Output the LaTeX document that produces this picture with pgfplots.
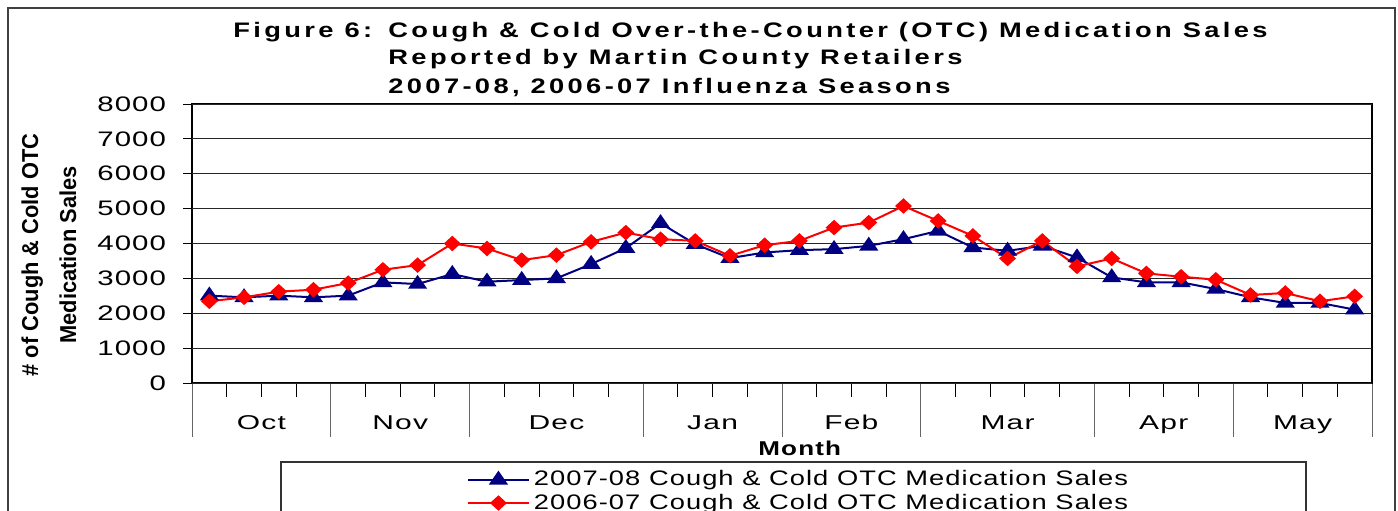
\documentclass[border=0pt]{standalone}
\usepackage{fontspec}
\usepackage{pgfplots}
\pgfplotsset{compat=1.18}
\setmainfont{Liberation Sans}
\newfontfamily\tickfont{Liberation Sans}[FakeStretch=1.4,LetterSpace=5]
\newfontfamily\monthfont{Liberation Sans}[FakeStretch=1.5,LetterSpace=6]
\newfontfamily\legfont{Liberation Sans}[FakeStretch=1.3,LetterSpace=5]
\newfontfamily\titlefont{Liberation Sans}[FakeStretch=1.3,LetterSpace=16]
\newfontfamily\xlabfont{Liberation Sans}[FakeStretch=1.3,LetterSpace=6]
\newfontfamily\ylabfont{Liberation Sans}[FakeStretch=0.95]
\definecolor{navyb}{RGB}{0,0,128}
\definecolor{redr}{RGB}{255,0,0}
\begin{document}
\begin{tikzpicture}[x=1pt,y=1pt]
\useasboundingbox (0,0) rectangle (699,255);
\draw[line width=0.6pt, black!75] (4,-10) -- (4,251) -- (697.5,251) -- (697.5,-10);
\draw[line width=0.6pt, black!80] (140.5,-10) -- (140.5,24) -- (653,24) -- (653,-10);
\node[anchor=base west, inner sep=0pt, font=\titlefont\bfseries\fontsize{10.5}{12}\selectfont] at (116.5,236.5) {Figure 6:};
\node[anchor=base west, inner sep=0pt, font=\titlefont\bfseries\fontsize{10.5}{12}\selectfont] at (194,236.5) {Cough \& Cold Over-the-Counter (OTC) Medication Sales};
\node[anchor=base west, inner sep=0pt, font=\titlefont\bfseries\fontsize{10.5}{12}\selectfont] at (194,222.5) {Reported by Martin County Retailers};
\node[anchor=base west, inner sep=0pt, font=\titlefont\bfseries\fontsize{10.5}{12}\selectfont] at (194,208) {2007-08, 2006-07 Influenza Seasons};
\begin{axis}[
  at={(96pt,63.5pt)}, anchor=south west,
  width=590pt, height=139.5pt, scale only axis,
  xmin=0.5, xmax=34.5, ymin=0, ymax=8000,
  axis line style={line width=1.1pt, black},
  tick align=outside, tick pos=left,
  ytick=\empty,
  extra y ticks={0,1000,...,8000},
  extra y tick style={major tick length=4.5pt, grid=major, ytick style={black, line width=0.5pt},
    yticklabel style={font=\tickfont\fontsize{10.5}{12}\selectfont, xshift=-5pt}},
  scaled y ticks=false,
  /pgf/number format/1000 sep={},
  /pgf/number format/assume math mode=true,
  ymajorgrids, grid style={black!85, line width=0.5pt},
  xtick={0.5,4.5,8.5,13.5,17.5,21.5,26.5,30.5,34.5},
  xticklabels={},
  xtick style={black!60, line width=0.5pt},
  major tick length=27pt,
  minor tick length=7pt,
  minor xtick={0.5,1.5,...,34.5},
  minor x tick style={black, line width=0.5pt},
  extra x ticks={2.5,6.5,11,15.5,19.5,24,28.5,32.5},
  extra x tick labels={Oct,Nov,Dec,Jan,Feb,Mar,Apr,May},
  extra x tick style={major tick length=0pt, grid=none, xtick style={draw=none},
    xticklabel style={anchor=base, yshift=-23pt, font=\monthfont\fontsize{10}{12}\selectfont}},
  ylabel={\# of Cough \& Cold OTC\\Medication Sales},
  ylabel style={at={(axis description cs:-0.1212,0.459)}, anchor=center, align=center,
    font=\ylabfont\bfseries\fontsize{11.5}{19}\selectfont},
  xlabel={Month},
  xlabel style={at={(axis description cs:0.515,-0.233)}, anchor=center,
    font=\xlabfont\bfseries\fontsize{10}{12}\selectfont},
  legend style={at={(axis description cs:0.233,-0.30)}, anchor=north west,
    draw=none, fill=none, inner sep=0pt, outer sep=0pt, row sep=-1.5pt,
    font=\legfont\fontsize{10.5}{10}\selectfont},
  legend cell align=left,
  legend image code/.code={\draw[#1, mark repeat=2, mark phase=2] plot coordinates {(0pt,0pt) (15.25pt,0pt) (30.5pt,0pt)};},
]
\addplot[navyb, line width=1pt, mark=triangle*, mark size=3.7pt, mark options={xscale=1.2}] coordinates {
(1,2505)(2,2457)(3,2505)(4,2457)(5,2505)(6,2886)(7,2838)(8,3124)(9,2905)(10,2952)
(11,3000)(12,3410)(13,3867)(14,4581)(15,3981)(16,3581)(17,3743)(18,3810)(19,3838)(20,3933)
(21,4124)(22,4362)(23,3886)(24,3790)(25,3933)(26,3600)(27,3029)(28,2886)(29,2886)(30,2695)
(31,2457)(32,2295)(33,2295)(34,2105)};
\addlegendentry{2007-08 Cough \& Cold OTC Medication Sales}
\addplot[redr, line width=1pt, mark=diamond*, mark size=3.2pt, mark options={xscale=1.45}] coordinates {
(1,2343)(2,2457)(3,2619)(4,2676)(5,2867)(6,3248)(7,3381)(8,4000)(9,3857)(10,3524)
(11,3667)(12,4048)(13,4314)(14,4124)(15,4076)(16,3648)(17,3952)(18,4076)(19,4457)(20,4600)
(21,5076)(22,4648)(23,4219)(24,3571)(25,4076)(26,3343)(27,3571)(28,3143)(29,3048)(30,2962)
(31,2524)(32,2581)(33,2343)(34,2486)};
\addlegendentry{2006-07 Cough \& Cold OTC Medication Sales}
\end{axis}
\end{tikzpicture}
\end{document}
